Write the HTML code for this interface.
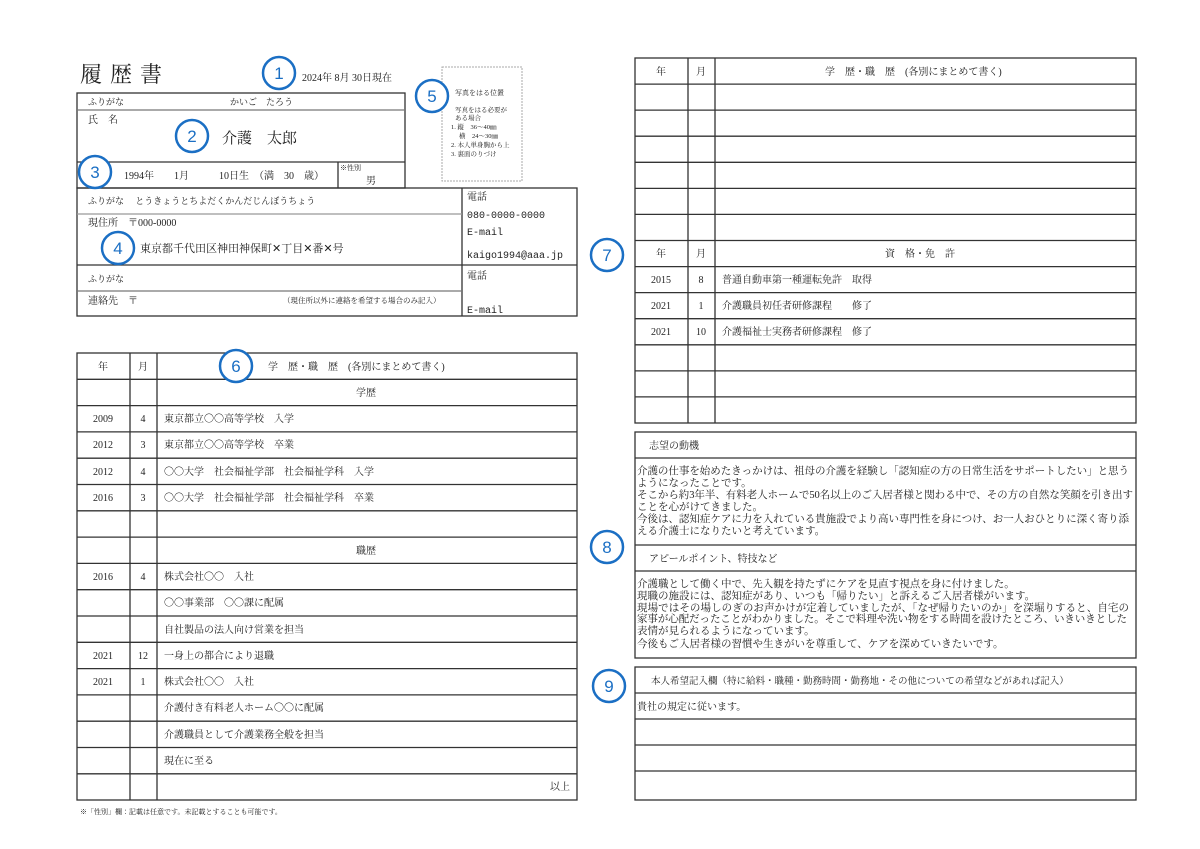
<!DOCTYPE html>
<html><head><meta charset="utf-8"><style>
html,body{margin:0;padding:0;background:#fff;}
svg{display:block;}
text{font-family:"Liberation Serif","Noto Serif CJK JP","Noto Serif CJK SC",serif;fill:#222;}
.c circle{fill:#fff;stroke:#1b6fc4;stroke-width:2.5;}
.c text{fill:#1b6fc4;font-family:"Liberation Sans",sans-serif;font-size:17px;text-anchor:middle;}
</style></head><body>
<svg width="1200" height="849" viewBox="0 0 1200 849" xmlns="http://www.w3.org/2000/svg">
<g stroke="#333" stroke-width="1.3" fill="none">
<rect x="77" y="93" width="328" height="95"/>
<line x1="77" y1="110" x2="405" y2="110" stroke="#777"/>
<line x1="77" y1="162" x2="405" y2="162"/>
<line x1="338" y1="162" x2="338" y2="188"/>
<rect x="442" y="67" width="80" height="114" stroke="#aaa" stroke-width="1" stroke-dasharray="2,1"/>
<rect x="77" y="188" width="500" height="128"/>
<line x1="462" y1="188" x2="462" y2="316"/>
<line x1="77" y1="214" x2="462" y2="214" stroke="#999"/>
<line x1="77" y1="265" x2="577" y2="265"/>
<line x1="77" y1="291" x2="462" y2="291" stroke="#777"/>
<rect x="77" y="353" width="500" height="447"/>
<line x1="130" y1="353" x2="130" y2="800"/>
<line x1="157" y1="353" x2="157" y2="800"/>
<line x1="77" y1="379.3" x2="577" y2="379.3"/><line x1="77" y1="405.6" x2="577" y2="405.6"/><line x1="77" y1="431.9" x2="577" y2="431.9"/><line x1="77" y1="458.2" x2="577" y2="458.2"/><line x1="77" y1="484.5" x2="577" y2="484.5"/><line x1="77" y1="510.8" x2="577" y2="510.8"/><line x1="77" y1="537.1" x2="577" y2="537.1"/><line x1="77" y1="563.4" x2="577" y2="563.4"/><line x1="77" y1="589.7" x2="577" y2="589.7"/><line x1="77" y1="616" x2="577" y2="616"/><line x1="77" y1="642.3" x2="577" y2="642.3"/><line x1="77" y1="668.6" x2="577" y2="668.6"/><line x1="77" y1="694.9" x2="577" y2="694.9"/><line x1="77" y1="721.2" x2="577" y2="721.2"/><line x1="77" y1="747.5" x2="577" y2="747.5"/><line x1="77" y1="773.8" x2="577" y2="773.8"/>
<rect x="635" y="58" width="501" height="365"/>
<line x1="688" y1="58" x2="688" y2="423"/>
<line x1="715" y1="58" x2="715" y2="423"/>
<line x1="635" y1="84.1" x2="1136" y2="84.1"/><line x1="635" y1="110.1" x2="1136" y2="110.1"/><line x1="635" y1="136.2" x2="1136" y2="136.2"/><line x1="635" y1="162.3" x2="1136" y2="162.3"/><line x1="635" y1="188.4" x2="1136" y2="188.4"/><line x1="635" y1="214.4" x2="1136" y2="214.4"/><line x1="635" y1="240.5" x2="1136" y2="240.5"/><line x1="635" y1="266.6" x2="1136" y2="266.6"/><line x1="635" y1="292.6" x2="1136" y2="292.6"/><line x1="635" y1="318.7" x2="1136" y2="318.7"/><line x1="635" y1="344.8" x2="1136" y2="344.8"/><line x1="635" y1="370.9" x2="1136" y2="370.9"/><line x1="635" y1="396.9" x2="1136" y2="396.9"/>
<rect x="635" y="432" width="501" height="226"/>
<line x1="635" y1="458" x2="1136" y2="458"/>
<line x1="635" y1="545" x2="1136" y2="545"/>
<line x1="635" y1="571" x2="1136" y2="571"/>
<rect x="635" y="667" width="501" height="133"/>
<line x1="635" y1="693" x2="1136" y2="693"/>
<line x1="635" y1="719" x2="1136" y2="719"/>
<line x1="635" y1="745" x2="1136" y2="745"/>
<line x1="635" y1="771" x2="1136" y2="771"/>
</g>

<text x="80" y="82" font-size="22" letter-spacing="8">履歴書</text>
<text x="302" y="81" font-size="10">2024年 8月 30日現在</text>
<text x="88" y="105" font-size="9">ふりがな</text>
<text x="230" y="105" font-size="9">かいご　たろう</text>
<text x="88" y="123" font-size="10">氏　名</text>
<text x="222" y="143" font-size="15">介護　太郎</text>
<text x="124" y="179" font-size="10">1994年　　1月　　　10日生　（満　30　歳）</text>
<text x="340" y="170" font-size="7">※性別</text>
<text x="366" y="184" font-size="10">男</text>
<text x="455" y="95" font-size="7">写真をはる位置</text>
<text x="455" y="112" font-size="6.5">写真をはる必要が</text>
<text x="455" y="120" font-size="6.5">ある場合</text>
<text x="451" y="129" font-size="6.5">1. 縦　36～40㎜</text>
<text x="459" y="138" font-size="6.5">横　24～30㎜</text>
<text x="451" y="147" font-size="6.5">2. 本人単身胸から上</text>
<text x="451" y="156" font-size="6.5">3. 裏面のりづけ</text>

<text x="88" y="204" font-size="9">ふりがな　 とうきょうとちよだくかんだじんぼうちょう</text>
<text x="88" y="226" font-size="10">現住所　〒000-0000</text>
<text x="140" y="252" font-size="11">東京都千代田区神田神保町✕丁目✕番✕号</text>
<text x="467" y="200" font-size="10">電話</text>
<text x="467" y="218" font-size="10" style="font-family:'Liberation Mono',monospace">080-0000-0000</text>
<text x="467" y="235" font-size="10" style="font-family:'Liberation Mono',monospace">E-mail</text>
<text x="467" y="258" font-size="10" style="font-family:'Liberation Mono',monospace">kaigo1994@aaa.jp</text>
<text x="88" y="282" font-size="9">ふりがな</text>
<text x="88" y="304" font-size="10">連絡先　〒</text>
<text x="283" y="303" font-size="7.5">（現住所以外に連絡を希望する場合のみ記入）</text>
<text x="467" y="279" font-size="10">電話</text>
<text x="467" y="313" font-size="10" style="font-family:'Liberation Mono',monospace">E-mail</text>

<g font-size="10">
<text x="103" y="370" text-anchor="middle">年</text>
<text x="143" y="370" text-anchor="middle">月</text>
<text x="268" y="370">学　歴・職　歴　(各別にまとめて書く)</text>
<text x="366" y="396" text-anchor="middle">学歴</text>
<text x="103" y="422" text-anchor="middle">2009</text><text x="143" y="422" text-anchor="middle">4</text><text x="164" y="422">東京都立〇〇高等学校　入学</text>
<text x="103" y="448" text-anchor="middle">2012</text><text x="143" y="448" text-anchor="middle">3</text><text x="164" y="448">東京都立〇〇高等学校　卒業</text>
<text x="103" y="475" text-anchor="middle">2012</text><text x="143" y="475" text-anchor="middle">4</text><text x="164" y="475">〇〇大学　社会福祉学部　社会福祉学科　入学</text>
<text x="103" y="501" text-anchor="middle">2016</text><text x="143" y="501" text-anchor="middle">3</text><text x="164" y="501">〇〇大学　社会福祉学部　社会福祉学科　卒業</text>
<text x="366" y="554" text-anchor="middle">職歴</text>
<text x="103" y="580" text-anchor="middle">2016</text><text x="143" y="580" text-anchor="middle">4</text><text x="164" y="580">株式会社〇〇　入社</text>
<text x="164" y="606">〇〇事業部　〇〇課に配属</text>
<text x="164" y="633">自社製品の法人向け営業を担当</text>
<text x="103" y="659" text-anchor="middle">2021</text><text x="143" y="659" text-anchor="middle">12</text><text x="164" y="659">一身上の都合により退職</text>
<text x="103" y="685" text-anchor="middle">2021</text><text x="143" y="685" text-anchor="middle">1</text><text x="164" y="685">株式会社〇〇　入社</text>
<text x="164" y="711">介護付き有料老人ホーム〇〇に配属</text>
<text x="164" y="738">介護職員として介護業務全般を担当</text>
<text x="164" y="764">現在に至る</text>
<text x="570" y="790" text-anchor="end">以上</text>
</g>
<text x="80" y="814" font-size="7">※「性別」欄：記載は任意です。未記載とすることも可能です。</text>

<g font-size="10">
<text x="661" y="75" text-anchor="middle">年</text>
<text x="701" y="75" text-anchor="middle">月</text>
<text x="825" y="75">学　歴・職　歴　(各別にまとめて書く)</text>
<text x="661" y="257" text-anchor="middle">年</text>
<text x="701" y="257" text-anchor="middle">月</text>
<text x="885" y="257">資　格・免　許</text>
<text x="661" y="283" text-anchor="middle">2015</text><text x="701" y="283" text-anchor="middle">8</text><text x="722" y="283">普通自動車第一種運転免許　取得</text>
<text x="661" y="309" text-anchor="middle">2021</text><text x="701" y="309" text-anchor="middle">1</text><text x="722" y="309">介護職員初任者研修課程　　修了</text>
<text x="661" y="335" text-anchor="middle">2021</text><text x="701" y="335" text-anchor="middle">10</text><text x="722" y="335">介護福祉士実務者研修課程　修了</text>
<text x="649" y="449">志望の動機</text>
<text x="649" y="562">アピールポイント、特技など</text>
<text x="651" y="684" font-size="9.5">本人希望記入欄（特に給料・職種・勤務時間・勤務地・その他についての希望などがあれば記入）</text>
<text x="637" y="710">貴社の規定に従います。</text>
</g>
<g font-size="10.5">
<text x="637" y="474" textLength="492">介護の仕事を始めたきっかけは、祖母の介護を経験し「認知症の方の日常生活をサポートしたい」と思う</text>
<text x="637" y="486">ようになったことです。</text>
<text x="637" y="498" textLength="496">そこから約3年半、有料老人ホームで50名以上のご入居者様と関わる中で、その方の自然な笑顔を引き出す</text>
<text x="637" y="510">ことを心がけてきました。</text>
<text x="637" y="522" textLength="492">今後は、認知症ケアに力を入れている貴施設でより高い専門性を身につけ、お一人おひとりに深く寄り添</text>
<text x="637" y="534">える介護士になりたいと考えています。</text>
<text x="637" y="587">介護職として働く中で、先入観を持たずにケアを見直す視点を身に付けました。</text>
<text x="637" y="599">現職の施設には、認知症があり、いつも「帰りたい」と訴えるご入居者様がいます。</text>
<text x="637" y="611" textLength="492">現場ではその場しのぎのお声かけが定着していましたが、「なぜ帰りたいのか」を深堀りすると、自宅の</text>
<text x="637" y="622" textLength="490">家事が心配だったことがわかりました。そこで料理や洗い物をする時間を設けたところ、いきいきとした</text>
<text x="637" y="634">表情が見られるようになっています。</text>
<text x="637" y="647">今後もご入居者様の習慣や生きがいを尊重して、ケアを深めていきたいです。</text>
</g>

<g class="c">
<circle cx="279" cy="73" r="16"/><text x="279" y="79">1</text>
<circle cx="192" cy="136" r="16"/><text x="192" y="142">2</text>
<circle cx="95" cy="172" r="16"/><text x="95" y="178">3</text>
<circle cx="118" cy="248" r="16"/><text x="118" y="254">4</text>
<circle cx="432" cy="96" r="16"/><text x="432" y="102">5</text>
<circle cx="236" cy="366" r="16"/><text x="236" y="372">6</text>
<circle cx="607" cy="255" r="16"/><text x="607" y="261">7</text>
<circle cx="607" cy="547" r="16"/><text x="607" y="553">8</text>
<circle cx="609" cy="686" r="16"/><text x="609" y="692">9</text>
</g>
</svg>
</body></html>
